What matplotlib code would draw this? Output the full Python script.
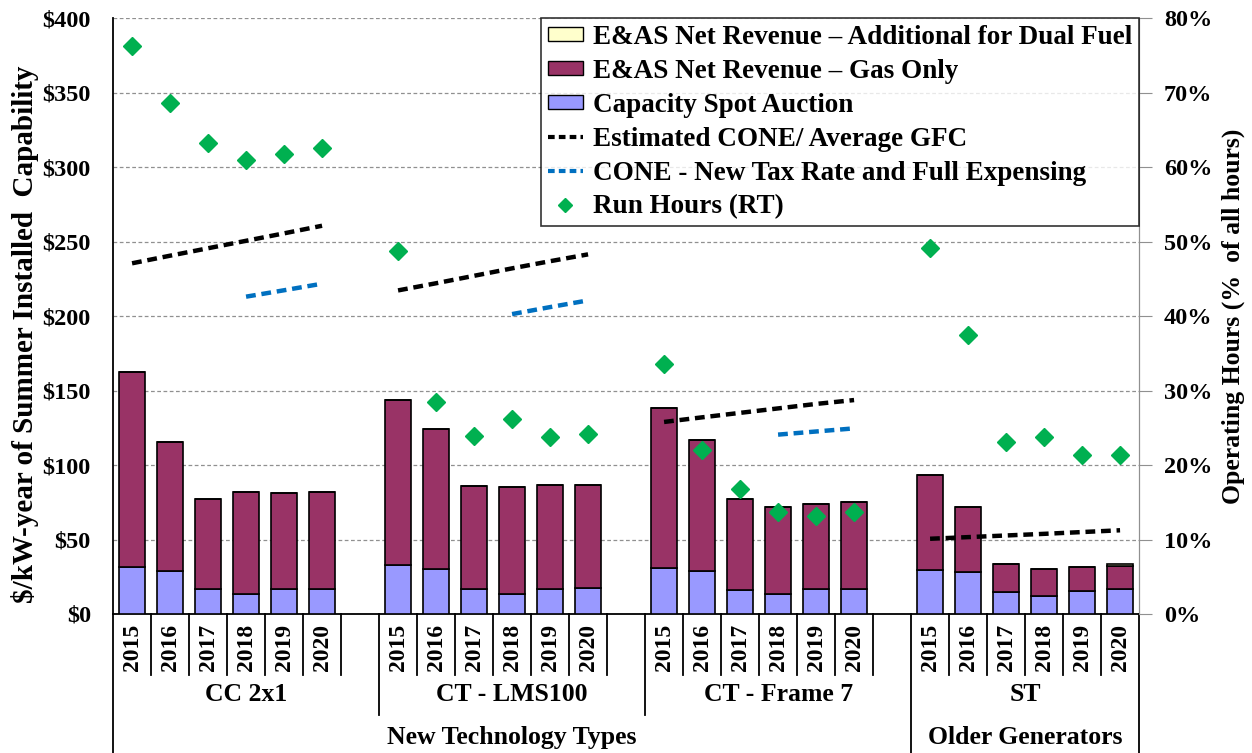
import matplotlib
matplotlib.use("Agg")
import matplotlib.pyplot as plt
import matplotlib.transforms as mtransforms
from matplotlib.patches import Patch
from matplotlib.lines import Line2D
from matplotlib.ticker import FuncFormatter, MultipleLocator

plt.rcParams['font.family'] = ['Liberation Serif', 'DejaVu Serif']
plt.rcParams['font.weight'] = 'bold'
plt.rcParams['axes.labelweight'] = 'bold'

## data
groups = ["CC 2x1", "CT - LMS100", "CT - Frame 7", "ST"]
years = ["2015", "2016", "2017", "2018", "2019", "2020"]
supergroups = ["New Technology Types", "Older Generators"]

capacity = [
    [31.7, 29.0, 17.0, 13.2, 17.0, 17.0],
    [32.7, 30.0, 17.0, 13.2, 17.0, 17.7],
    [31.0, 29.0, 15.9, 13.2, 17.0, 17.0],
    [29.5, 28.0, 14.8, 12.3, 15.6, 16.8],
]
gas_only = [
    [130.7, 86.6, 60.4, 68.8, 64.2, 65.0],
    [110.9, 94.2, 68.9, 71.8, 69.6, 68.9],
    [107.0, 87.8, 61.5, 58.8, 56.8, 58.0],
    [63.8, 43.8, 18.8, 17.7, 15.7, 15.6],
]
dual_fuel = [
    [0, 0, 0, 0, 0, 0],
    [0, 0, 0, 0, 0, 0],
    [0, 0, 0, 0, 0, 0],
    [0, 0, 0, 0, 0.4, 1.2],
]
cone = [
    [235.4, 240.5, 245.5, 250.5, 255.5, 260.6],
    [217.2, 222.0, 227.0, 232.0, 236.8, 241.4],
    [128.9, 132.0, 135.0, 138.0, 141.0, 143.6],
    [50.5, 51.6, 52.7, 53.8, 55.0, 56.2],
]
# new-tax CONE only for 2018-2020 of the new technologies
cone_new_years = ["2018", "2019", "2020"]
cone_new = [
    [213.0, 217.3, 221.7],
    [201.3, 206.0, 210.5],
    [120.4, 122.5, 124.6],
]
run_hours = [
    [76.3, 68.6, 63.2, 61.0, 61.7, 62.5],
    [48.7, 28.4, 23.9, 26.2, 23.7, 24.1],
    [33.6, 22.0, 16.8, 13.7, 13.1, 13.7],
    [49.1, 37.5, 23.1, 23.8, 21.3, 21.3],
]

col_cap = '#9999FF'
col_gas = '#993366'
col_dual = '#FFFFCC'
col_run = '#00B050'
col_new = '#0070C0'
dash = (0, (2.2, 1.3))

fig = plt.figure(figsize=(12.52, 7.53), dpi=100)
ax = fig.add_axes([0.0903, 0.1846, 0.8195, 0.7914])

# x positions: 6 bars per group, one empty slot between groups
xpos = []
for g in range(len(groups)):
    xpos.append([g * 7 + i for i in range(len(years))])

for g in range(len(groups)):
    xs = xpos[g]
    ax.bar(xs, capacity[g], 0.67, color=col_cap, edgecolor='black', linewidth=1.2, zorder=3)
    ax.bar(xs, gas_only[g], 0.67, bottom=capacity[g], color=col_gas,
           edgecolor='black', linewidth=1.2, zorder=3)
    bot = [c + s for c, s in zip(capacity[g], gas_only[g])]
    ax.bar(xs, dual_fuel[g], 0.67, bottom=bot, color=col_dual,
           edgecolor='black', linewidth=1.2, zorder=3)
    ax.plot(xs, cone[g], color='black', linestyle=dash, linewidth=3.2, zorder=4)
    if g < len(cone_new):
        xn = [xs[years.index(y)] for y in cone_new_years]
        ax.plot(xn, cone_new[g], color=col_new, linestyle=dash, linewidth=3.2, zorder=4)

ax.set_xlim(-0.5, 26.5)
ax.set_ylim(0, 400)
ax.yaxis.set_major_locator(MultipleLocator(50))
ax.yaxis.set_major_formatter(FuncFormatter(lambda v, p: "$%d" % v))
ax.tick_params(axis='y', length=0, labelsize=17.5, pad=16)
ax.set_xticks([])
ax.grid(axis='y', color='#909090', linestyle=(0, (3, 2)), linewidth=0.9, zorder=0)
ax.spines['top'].set_visible(False)
ax.spines['right'].set_color('#909090')
ax.spines['left'].set_linewidth(1.3)
ax.spines['bottom'].set_linewidth(1.3)
ax.set_ylabel("$/kW-year of Summer Installed  Capability", fontsize=21)
ax.yaxis.set_label_coords(-0.072, 0.47)

ax2 = ax.twinx()
ax2.set_ylim(0, 80)
for g in range(len(groups)):
    ax2.plot(xpos[g], run_hours[g], linestyle='none', marker='D', markersize=9,
             color=col_run, zorder=5)
ax2.yaxis.set_major_locator(MultipleLocator(10))
ax2.yaxis.set_major_formatter(FuncFormatter(lambda v, p: "%d%%" % v))
ax2.tick_params(axis='y', length=9, color='#909090', labelsize=17.5, pad=9)
ax2.spines['top'].set_visible(False)
ax2.spines['left'].set_visible(False)
ax2.spines['bottom'].set_visible(False)
ax2.spines['right'].set_color('#909090')
ax2.set_ylabel("Operating Hours (%  of all hours)", fontsize=18.5)
ax2.yaxis.set_label_coords(1.080, 0.50)

# multi-level category axis
tr = mtransforms.blended_transform_factory(ax.transData, ax.transAxes)
y_short, y_mid, y_long = -0.102, -0.169, -0.235
for b in range(28):
    xb = b - 0.5
    if b in (0, 21, 27):
        ylow = y_long
    elif b in (7, 14):
        ylow = y_mid
    else:
        ylow = y_short
    ax.plot([xb, xb], [0, ylow], color='black', linewidth=1.3, transform=tr, clip_on=False)

for g in range(len(groups)):
    for i, x in enumerate(xpos[g]):
        ax.text(x, -0.016, years[i], rotation=90, ha='center', va='top',
                fontsize=17, transform=tr)
    end = g * 7 + 6.5 if g < 3 else 26.5
    ax.text((g * 7 - 0.5 + end) / 2, -0.135, groups[g], ha='center', va='center',
            fontsize=18.5, transform=tr)
ax.text((-0.5 + 20.5) / 2, -0.208, supergroups[0], ha='center', va='center',
        fontsize=18.5, transform=tr)
ax.text((20.5 + 26.5) / 2, -0.208, supergroups[1], ha='center', va='center',
        fontsize=18.5, transform=tr)

handles = [
    Patch(facecolor=col_dual, edgecolor='black', label="E&AS Net Revenue \u2013 Additional for Dual Fuel"),
    Patch(facecolor=col_gas, edgecolor='black', label="E&AS Net Revenue \u2013 Gas Only"),
    Patch(facecolor=col_cap, edgecolor='black', label="Capacity Spot Auction"),
    Line2D([], [], color='black', linestyle=(0, (1.6, 1.0)), linewidth=3, label="Estimated CONE/ Average GFC"),
    Line2D([], [], color=col_new, linestyle=(0, (1.6, 1.0)), linewidth=3, label="CONE - New Tax Rate and Full Expensing"),
    Line2D([], [], color=col_run, linestyle='none', marker='D', markersize=7, label="Run Hours (RT)"),
]
leg = ax2.legend(handles=handles, loc='upper right', bbox_to_anchor=(0.9995, 1.0),
                 fontsize=19.5, frameon=True, fancybox=False, borderaxespad=0.0,
                 handlelength=1.3, handleheight=0.45, handletextpad=0.35,
                 labelspacing=0.33, borderpad=0.25)
leg.get_frame().set_edgecolor('black')
leg.get_frame().set_linewidth(1.2)
leg.set_zorder(10)

fig.savefig("out.png", dpi=100)
